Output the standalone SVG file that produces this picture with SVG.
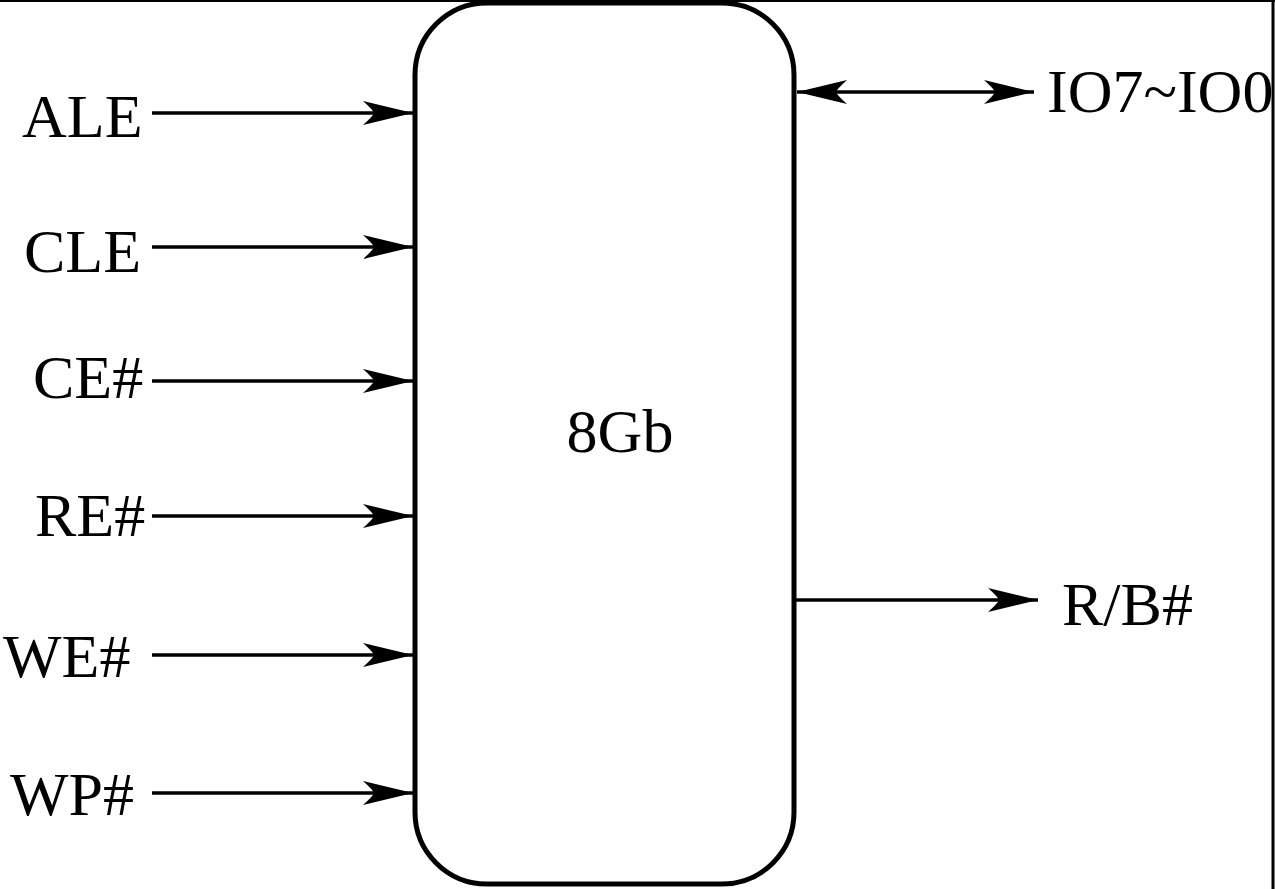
<svg xmlns="http://www.w3.org/2000/svg" width="1275" height="889" viewBox="0 0 1275 889">
<style>
text{font-family:"Liberation Serif","Times New Roman",serif;font-size:62px;fill:#000}
.c{stroke:#000;stroke-width:3.5;fill:none}
.b{stroke:#000;stroke-width:5;fill:#fff}
</style>
<defs>
<marker id="ah" viewBox="-50 -13 52 26" refX="0" refY="0" markerWidth="52" markerHeight="26" markerUnits="userSpaceOnUse" orient="auto-start-reverse">
<path d="M0,0 L-50,-12 Q-40,-3 -39,0 Q-40,3 -50,12 Z" fill="#000"/>
</marker>
</defs>
<rect x="0" y="0" width="1275" height="889" fill="#fff"/>
<line x1="0" y1="1" x2="1275" y2="1" stroke="#000" stroke-width="2"/>
<line x1="1273" y1="0" x2="1273" y2="889" stroke="#000" stroke-width="3"/>
<g id="chip">
<rect class="b" x="415" y="3" width="379" height="881" rx="72" ry="72"/>
<text x="620" y="452" text-anchor="middle">8Gb</text>
</g>
<g id="labels">
<text id="ALE" x="22" y="137">ALE</text>
<text id="CLE" x="24" y="272">CLE</text>
<text id="CE" x="33" y="398">CE#</text>
<text id="RE" x="35" y="536">RE#</text>
<text id="WE" x="3" y="677">WE#</text>
<text id="WP" x="10" y="815">WP#</text>
<text id="IO" x="1047" y="112">IO7~IO0</text>
<text id="RB" x="1062" y="625">R/B#</text>
</g>
<g id="connectors">
<line class="c" x1="152" y1="113" x2="413" y2="113" marker-end="url(#ah)"/>
<line class="c" x1="152" y1="247" x2="413" y2="247" marker-end="url(#ah)"/>
<line class="c" x1="152" y1="381" x2="413" y2="381" marker-end="url(#ah)"/>
<line class="c" x1="152" y1="516" x2="413" y2="516" marker-end="url(#ah)"/>
<line class="c" x1="152" y1="655" x2="413" y2="655" marker-end="url(#ah)"/>
<line class="c" x1="152" y1="793" x2="413" y2="793" marker-end="url(#ah)"/>
<line class="c" x1="797" y1="92" x2="1034" y2="92" marker-start="url(#ah)" marker-end="url(#ah)"/>
<line class="c" x1="796" y1="600" x2="1038" y2="600" marker-end="url(#ah)"/>
</g>
</svg>
